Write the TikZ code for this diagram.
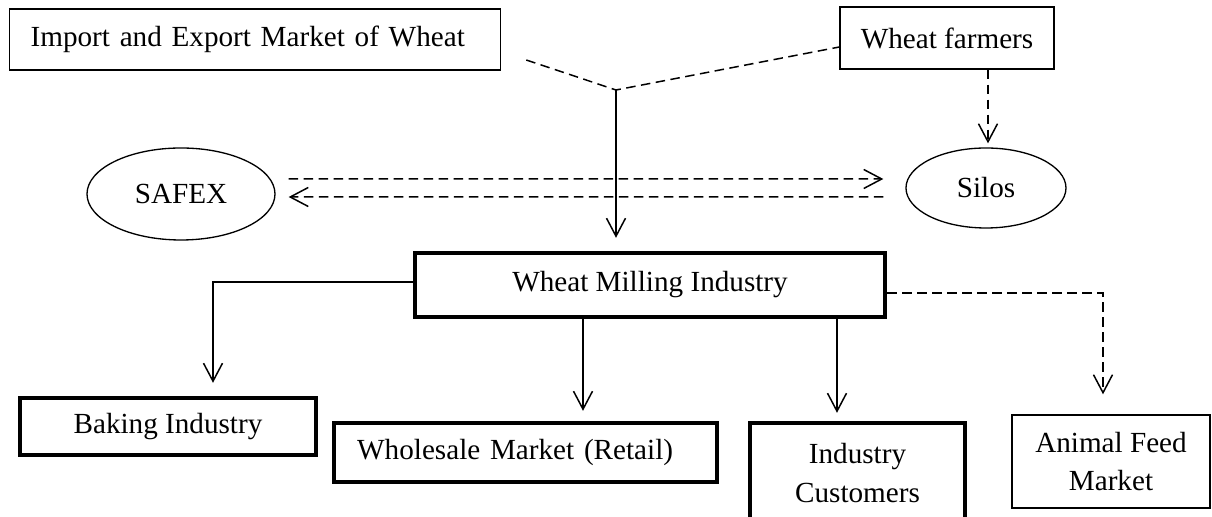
\documentclass[tikz,border=0pt]{standalone}
\usepackage{fontspec}
\setmainfont{Liberation Serif}
\usepackage{tikz}
\usetikzlibrary{arrows.meta, calc, shapes.geometric}

\begin{document}
\begin{tikzpicture}[
    font=\fontsize{16.6}{22.1}\selectfont,
    plainbox/.style={
        rectangle,
        draw=black,
        line width=0.75pt,
        inner sep=0pt
    },
    boldbox/.style={
        rectangle,
        draw=black,
        line width=2.5pt,
        inner sep=0pt
    },
    oval/.style={ellipse, draw=black, line width=0.75pt, inner sep=0pt},
    flow/.style={-{Straight Barb[length=3.6mm, width=3.8mm]}, draw=black, line width=0.85pt},
    dashflow/.style={flow, dash pattern=on 0.19cm off 0.11cm},
    dashline/.style={draw=black, line width=0.85pt, dash pattern=on 0.19cm off 0.11cm}
]

% Page
\path[use as bounding box, fill=white] (0,0) rectangle (24.24,10.34);

% Sources
\node[plainbox, anchor=west, minimum height=1.22cm, inner xsep=0.42cm,
      text width=8.98cm, align=left] (import) at (0.18,9.55)
    {Import and Export Market of Wheat};
\node[plainbox, minimum width=4.28cm, minimum height=1.24cm] (farmers) at (18.94,9.58)
    {Wheat farmers};

% Storage and exchange
\node[oval, minimum width=3.76cm, minimum height=1.84cm] (safex) at (3.62,6.46) {SAFEX};
\node[oval, minimum width=3.20cm, minimum height=1.60cm] (silos) at (19.72,6.58) {Silos};

% Milling
\node[boldbox, minimum width=9.40cm, minimum height=1.28cm] (milling) at (13.00,4.64)
    {Wheat Milling Industry};

% Outlets
\node[boldbox, minimum width=5.92cm, minimum height=1.14cm] (baking) at (3.36,1.81)
    {Baking Industry};
\node[boldbox, anchor=west, minimum height=1.18cm, inner xsep=0.46cm,
      text width=6.74cm, align=left] (wholesale) at (6.64,1.29)
    {Wholesale Market (Retail)};
\node[boldbox, minimum width=4.30cm, minimum height=2.00cm, align=center] (industry) at (17.15,0.88)
    {Industry\\Customers};
\node[plainbox, minimum width=3.96cm, minimum height=1.86cm, align=center] (animal) at (22.22,1.11)
    {Animal Feed\\Market};

% Supply into the mills
\coordinate (junction) at (12.32,8.54);
\draw[dashline] ([shift={(0.50,-0.41)}]import.east) -- (junction) -- ([yshift=-0.18cm]farmers.west);
\draw[flow, shorten >=0.26cm] (junction) -- (junction |- milling.north);

\coordinate (farmdrop) at ([xshift=0.82cm]farmers.south);
\draw[dashflow, shorten >=0.08cm] (farmdrop) -- (farmdrop |- silos.north);

% SAFEX <-> Silos
\draw[dashflow] ([shift={(0.26,0.30)}]safex.east) -- ([shift={(-0.44,0.18)}]silos.west);
\draw[dashflow] ([shift={(-0.44,-0.18)}]silos.west) -- ([shift={(0.26,-0.06)}]safex.east);

% Out of the mills
\coordinate (toBaking) at ([xshift=0.90cm]baking.north);
\draw[flow, shorten >=0.26cm] ([yshift=0.06cm]milling.west) -| (toBaking);

\coordinate (toWholesale) at ([xshift=-1.34cm]milling.south);
\draw[flow, shorten >=0.20cm] (toWholesale) -- (toWholesale |- wholesale.north);

\coordinate (toIndustry) at ([xshift=3.74cm]milling.south);
\draw[flow, shorten >=0.16cm] (toIndustry) -- (toIndustry |- industry.north);

\coordinate (toAnimal) at ([xshift=-0.16cm]animal.north);
\draw[dashflow, shorten >=0.40cm] ([yshift=-0.16cm]milling.east) -| (toAnimal);

\end{tikzpicture}
\end{document}
